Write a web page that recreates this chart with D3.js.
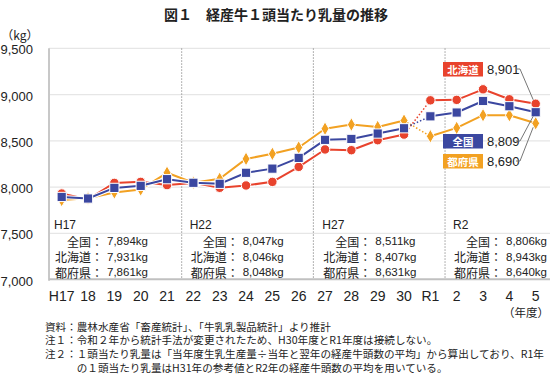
<!DOCTYPE html>
<html><head><meta charset="utf-8">
<script src="https://cdn.jsdelivr.net/npm/d3@7"></script>
<style>
html,body{margin:0;padding:0;background:#fff;}
svg{display:block;}
text{font-family:"Liberation Sans","Noto Sans CJK JP",sans-serif;}
.jp{font-family:"Noto Sans CJK JP",sans-serif;}
</style></head>
<body>
<svg id="c" width="550" height="378"></svg>
<script>
const categories = ["H17","18","19","20","21","22","23","24","25","26","27","28","29","30","R1","2","3","4","5"];
const zenkoku  = [7894,7877,7992,8014,8086,8047,8036,8155,8200,8316,8511,8521,8579,8636,8765,8806,8931,8874,8809];
const hokkaido = [7931,7868,8046,8057,8022,8046,7993,8018,8057,8219,8407,8399,8507,8568,8938,8943,9057,8949,8901];
const tofuken  = [7861,7880,7943,7975,8155,8048,8090,8305,8360,8428,8631,8676,8650,8719,8550,8640,8777,8777,8690];
const yTicks = [7000,7500,8000,8500,9000,9500];
const tableIdx = [0,5,10,15];
const tableHeads = ["H17","H22","H27","R2"];
const seriesNames = ["全国","北海道","都府県"];
const notes = [
  "資料：農林水産省「畜産統計」、「牛乳乳製品統計」より推計",
  "注１：令和２年から統計手法が変更されたため、H30年度とR1年度は接続しない。",
  "注２：１頭当たり乳量は「当年度生乳生産量÷当年と翌年の経産牛頭数の平均」から算出しており、R1年",
  "　　　の１頭当たり乳量はH31年の参考値とR2年の経産牛頭数の平均を用いている。"
];

const RED="#e8432d", BLUE="#3b47a0", ORANGE="#f2a122";
const svg = d3.select("#c");
const x = d3.scalePoint().domain(categories).range([61.7,535.7]);
const y = d3.scaleLinear().domain([7000,9500]).range([279.7,48.3]);
const L=49, R=550;

// title
svg.append("text").attr("class","jp").attr("x",276).attr("y",14).attr("text-anchor","middle")
  .attr("dominant-baseline","central").attr("font-size",14).attr("font-weight","bold").attr("fill","#222")
  .text("図１　経産牛１頭当たり乳量の推移");

// gridlines
svg.append("g").selectAll("line").data(yTicks.filter(d=>d>7000)).join("line")
  .attr("x1",L).attr("x2",R).attr("y1",d=>y(d)).attr("y2",d=>y(d))
  .attr("stroke","#e6e6e6").attr("stroke-width",1.2);
// y labels
svg.append("g").selectAll("text").data(yTicks).join("text")
  .attr("x",33).attr("y",d=>y(d)+1.5).attr("text-anchor","end").attr("dominant-baseline","central")
  .attr("font-size",13).attr("fill","#222").text(d=>d3.format(",")(d));
svg.append("text").attr("class","jp").attr("x",20).attr("y",34).attr("text-anchor","middle")
  .attr("dominant-baseline","central").attr("font-size",12).attr("fill","#222").text("（kg）");

// separators
const seps = [[4,5],[9,10],[14,15]].map(([a,b])=>(x(categories[a])+x(categories[b]))/2+1.5);
svg.append("g").selectAll("line").data(seps).join("line")
  .attr("x1",d=>d).attr("x2",d=>d).attr("y1",y(9500)).attr("y2",y(7000))
  .attr("stroke","#999").attr("stroke-width",1).attr("stroke-dasharray","1.5,1.5");

// axes lines
svg.append("line").attr("x1",L).attr("x2",L).attr("y1",y(9500)).attr("y2",y(7000)+1)
  .attr("stroke","#c8c8c8").attr("stroke-width",2);
svg.append("line").attr("x1",L).attr("x2",R).attr("y1",y(7000)-0.5).attr("y2",y(7000)-0.5)
  .attr("stroke","#c0c0c0").attr("stroke-width",2);

// x labels
svg.append("g").selectAll("text").data(categories).join("text")
  .attr("x",d=>x(d)).attr("y",295.5).attr("text-anchor","middle").attr("dominant-baseline","central")
  .attr("font-size",14).attr("fill","#222").text(d=>d);
svg.append("text").attr("class","jp").attr("x",549).attr("y",311.5).attr("text-anchor","end")
  .attr("dominant-baseline","central").attr("font-size",11.5).attr("fill","#222").text("（年度）");

// table
const tStarts = [L+5, seps[0]+8, seps[1]+9, seps[2]+8];
const allSeries = [zenkoku,hokkaido,tofuken];
const tg = svg.append("g");
tableIdx.forEach((idx,i)=>{
  const sx = tStarts[i];
  tg.append("text").attr("x",sx).attr("y",225).attr("dominant-baseline","central")
    .attr("font-size",12).attr("fill","#222").text(tableHeads[i]);
  seriesNames.forEach((nm,j)=>{
    const ry = 241 + j*15.5;
    tg.append("text").attr("class","jp").attr("x",sx+49).attr("y",ry).attr("text-anchor","end")
      .attr("dominant-baseline","central").attr("font-size",12).attr("fill","#222").text(nm+"：");
    tg.append("text").attr("x",sx+53).attr("y",ry).attr("dominant-baseline","central")
      .attr("font-size",11.5).attr("fill","#222").text(d3.format(",")(allSeries[j][idx])+"kg");
  });
});

// lines
const idxs = categories.map((c,i)=>i);
let cur;
const line = d3.line().x(i=>x(categories[i])).y(i=>y(cur[i]));
const seg1 = idxs.slice(0,14), seg2 = idxs.slice(14), gap=[13,14];
const specs = [
  {data:hokkaido,color:RED,shape:"circle"},
  {data:tofuken,color:ORANGE,shape:"diamond"},
  {data:zenkoku,color:BLUE,shape:"square"}
];
const lg = svg.append("g");
specs.forEach(s=>{
  cur = s.data;
  [seg1,seg2].forEach(seg=>{
    lg.append("path").attr("d",line(seg)).attr("fill","none").attr("stroke","#fff").attr("stroke-width",4).attr("stroke-linejoin","round");
    lg.append("path").attr("d",line(seg)).attr("fill","none").attr("stroke",s.color).attr("stroke-width",2).attr("stroke-linejoin","round");
  });
  lg.append("path").attr("d",line(gap)).attr("fill","none").attr("stroke",s.color).attr("stroke-width",1.5).attr("stroke-dasharray","1.5,2");
});
specs.forEach(s=>{
  const g = svg.append("g");
  const sym = s.shape==="circle" ? d3.symbol(d3.symbolCircle,70) :
              s.shape==="square" ? d3.symbol(d3.symbolSquare,85) : d3.symbol(d3.symbolDiamond,55);
  g.selectAll("path").data(idxs).join("path")
    .attr("transform",i=>`translate(${x(categories[i])},${y(s.data[i])})`)
    .attr("d",sym).attr("fill",s.color).attr("stroke","#fff").attr("stroke-width",1);
});

// annotations
const last = categories.length-1;
const ann = [
  {name:"北海道",color:RED,val:hokkaido[last],by:62},
  {name:"全国",color:BLUE,val:zenkoku[last],by:134},
  {name:"都府県",color:ORANGE,val:tofuken[last],by:154}
];
ann.forEach(a=>{
  svg.append("rect").attr("x",443).attr("y",a.by).attr("width",40).attr("height",14.5).attr("fill",a.color);
  svg.append("text").attr("class","jp").attr("x",463).attr("y",a.by+7.5).attr("text-anchor","middle")
    .attr("dominant-baseline","central").attr("font-size",10.5).attr("font-weight","bold").attr("fill","#fff").text(a.name);
  svg.append("text").attr("x",487).attr("y",a.by+7.5).attr("dominant-baseline","central")
    .attr("font-size",13).attr("fill","#222").text(d3.format(",")(a.val));
  const ty = y(a.val), cy = a.by+7;
  const tx = x(categories[last]);
  const endY = ty + (cy<ty ? -4 : 4);
  svg.append("polyline").attr("points",`516,${cy} 520,${cy} ${tx-2.5},${endY}`)
    .attr("fill","none").attr("stroke","#777").attr("stroke-width",1);
});

// notes
notes.forEach((t,i)=>{
  svg.append("text").attr("class","jp").attr("x",45).attr("y",326+i*13.7).attr("dominant-baseline","central")
    .attr("font-size",10.6).attr("fill","#222").text(t);
});
</script>
</body></html>
